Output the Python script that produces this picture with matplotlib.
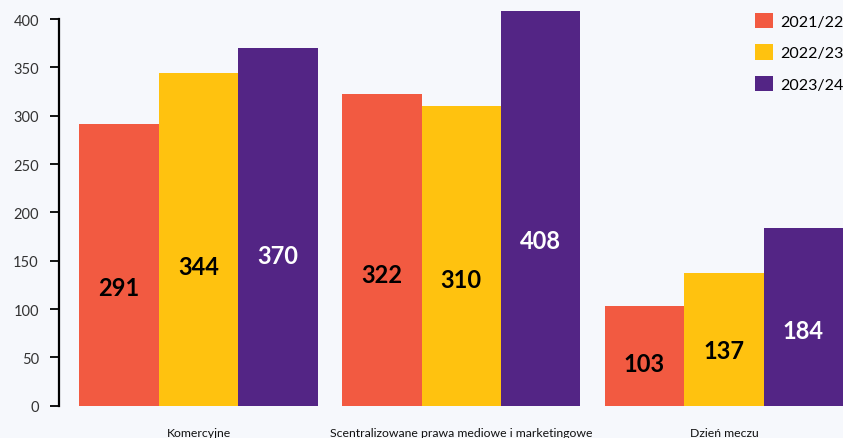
import matplotlib
matplotlib.use("Agg")
import matplotlib.pyplot as plt
import numpy as np
from matplotlib.patches import Patch

categories = ["Komercyjne", "Scentralizowane prawa mediowe i marketingowe", "Dzień meczu"]
seasons = ["2021/22", "2022/23", "2023/24"]
values = {
    "2021/22": [291, 322, 103],
    "2022/23": [344, 310, 137],
    "2023/24": [370, 408, 184],
}
yticks = [0, 50, 100, 150, 200, 250, 300, 350, 400]

colors = ["#f25a41", "#ffc20f", "#532585"]
label_colors = ["black", "black", "white"]
bg = "#f6f8fc"

fig = plt.figure(figsize=(8.43, 4.39), dpi=100, facecolor=bg)
ax = fig.add_axes([59 / 843, 32.3 / 439, 784 / 843, 386.7 / 439])
ax.set_facecolor(bg)

x = np.arange(len(categories))
w = 0.3025
for i, s in enumerate(seasons):
    pos = x + (i - 1) * w
    bars = ax.bar(pos, values[s], width=w, color=colors[i], clip_on=False, zorder=2)
    for b, v in zip(bars, values[s]):
        ax.text(b.get_x() + w / 2, v * 0.42, str(v), ha="center", va="center",
                fontsize=17, fontweight="bold", family="Lato", color=label_colors[i])

ax.set_xlim(-0.531, 2.453)
ax.set_ylim(0, 400)
ax.set_yticks(yticks)
ax.set_xticks(x)
ax.set_xticklabels(categories, fontsize=8.8, family="Lato", color="#111111")
ax.tick_params(axis="x", length=0, pad=15)
ax.tick_params(axis="y", direction="out", length=6.5, width=1.3, pad=8,
               labelsize=10.5, labelcolor="#333333")
for lbl in ax.get_yticklabels():
    lbl.set_family("Lato")

for side in ["top", "right", "bottom"]:
    ax.spines[side].set_visible(False)
ax.spines["left"].set_linewidth(1.6)

handles = [Patch(facecolor=c, edgecolor="none") for c in colors]
fig.legend(handles, seasons, loc="upper left", bbox_to_anchor=(755 / 843, 1 - 14 / 439),
           frameon=False, borderpad=0, borderaxespad=0,
           handlelength=1.1, handleheight=1.1, handletextpad=0.45,
           labelspacing=0.95, prop={"family": "Lato", "size": 11.5})

fig.savefig("out.png", dpi=100, facecolor=bg)
